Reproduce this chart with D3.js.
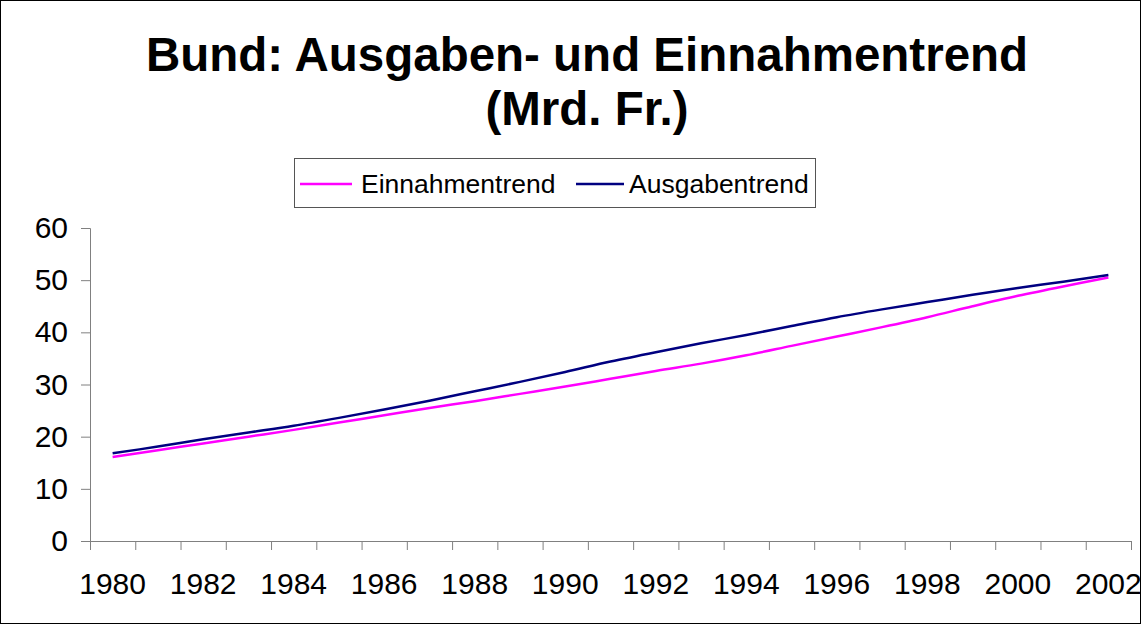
<!DOCTYPE html>
<html>
<head>
<meta charset="utf-8">
<script src="https://cdn.jsdelivr.net/npm/d3@7"></script>
<style>
  body { margin: 0; background: #fff; }
  svg { display: block; font-family: "Liberation Sans", Arial, sans-serif; }
</style>
</head>
<body>
<svg width="1142" height="625"></svg>
<script>
// years on the x axis
var years = [1980, 1981, 1982, 1983, 1984, 1985, 1986, 1987, 1988, 1989, 1990, 1991,
  1992, 1993, 1994, 1995, 1996, 1997, 1998, 1999, 2000, 2001, 2002];
// Mrd. Fr.
var einnahmen = [16.1, 17.4, 18.7, 20.0, 21.3, 22.7, 24.1, 25.5, 26.8, 28.2, 29.6, 31.1,
  32.6, 34.0, 35.6, 37.4, 39.2, 41.0, 42.9, 45.0, 47.0, 48.8, 50.5];
var ausgaben = [16.8, 18.1, 19.5, 20.8, 22.1, 23.6, 25.2, 26.9, 28.7, 30.5, 32.4, 34.4,
  36.2, 37.9, 39.5, 41.2, 42.9, 44.4, 45.8, 47.2, 48.5, 49.7, 51.0];
var yTicks = [0, 10, 20, 30, 40, 50, 60];
var seriesNames = ['Einnahmentrend', 'Ausgabentrend'];
var seriesColors = ['#ff00ff', '#000080'];

var svg = d3.select('svg');

// outer frame
svg.append('rect').attr('x', 0.5).attr('y', 0.5).attr('width', 1140).attr('height', 623)
  .attr('fill', 'none').attr('stroke', '#000').attr('stroke-width', 1);

// title
var title = svg.append('text').attr('x', 587).attr('text-anchor', 'middle')
  .attr('font-size', 47.5).attr('font-weight', 'bold').attr('fill', '#000');
title.append('tspan').attr('x', 587).attr('y', 71).text('Bund: Ausgaben- und Einnahmentrend');
title.append('tspan').attr('x', 587).attr('y', 125).text('(Mrd. Fr.)');

var x = d3.scaleBand().domain(years).range([90, 1131]).padding(0);
var y = d3.scaleLinear().domain([0, 60]).range([541, 228]);
var xIdx = d3.scaleLinear().domain([0, years.length]).range([90, 1131]);

// y axis
var yAxis = svg.append('g').attr('transform', 'translate(90,0)')
  .call(d3.axisLeft(y).tickValues(yTicks).tickSize(9).tickPadding(13).tickFormat(d3.format('d')));
yAxis.select('.domain').attr('stroke', '#808080');
yAxis.selectAll('.tick line').attr('stroke', '#808080');
yAxis.selectAll('.tick text').attr('font-size', 30).attr('fill', '#000')
  .attr('font-family', '"Liberation Sans", Arial, sans-serif');

// x axis: ticks at category boundaries
var xTickAxis = svg.append('g').attr('transform', 'translate(0,541)')
  .call(d3.axisBottom(xIdx).tickValues(d3.range(0, years.length + 1)).tickSize(9).tickFormat(''));
xTickAxis.select('.domain').attr('stroke', '#808080').attr('d', 'M90,0.5H1131');
xTickAxis.selectAll('.tick line').attr('stroke', '#808080');

// x labels every second year, centred on category
var xLabelAxis = svg.append('g').attr('transform', 'translate(0,541)')
  .call(d3.axisBottom(x).tickValues(years.filter(function (d) { return d % 2 === 0; }))
    .tickSize(0).tickPadding(32));
xLabelAxis.select('.domain').remove();
xLabelAxis.selectAll('.tick text').attr('font-size', 30).attr('fill', '#000')
  .attr('font-family', '"Liberation Sans", Arial, sans-serif');

// lines
var line = d3.line()
  .x(function (d, i) { return x(years[i]) + x.bandwidth() / 2; })
  .y(function (d) { return y(d); })
  .curve(d3.curveCatmullRom);

[einnahmen, ausgaben].forEach(function (s, k) {
  svg.append('path').datum(s).attr('d', line).attr('fill', 'none')
    .attr('stroke', seriesColors[k]).attr('stroke-width', 2.5);
});

// legend
svg.append('rect').attr('x', 294.5).attr('y', 158.5).attr('width', 521).attr('height', 49)
  .attr('fill', '#fff').attr('stroke', '#555').attr('stroke-width', 1);
var legendX = [[300, 352, 361], [576, 624, 629]];
seriesNames.forEach(function (n, k) {
  svg.append('line').attr('x1', legendX[k][0]).attr('x2', legendX[k][1])
    .attr('y1', 184).attr('y2', 184).attr('stroke', seriesColors[k]).attr('stroke-width', 2.5);
  svg.append('text').attr('x', legendX[k][2]).attr('y', 193).attr('font-size', 26.5)
    .attr('fill', '#000').text(n);
});
</script>
</body>
</html>
